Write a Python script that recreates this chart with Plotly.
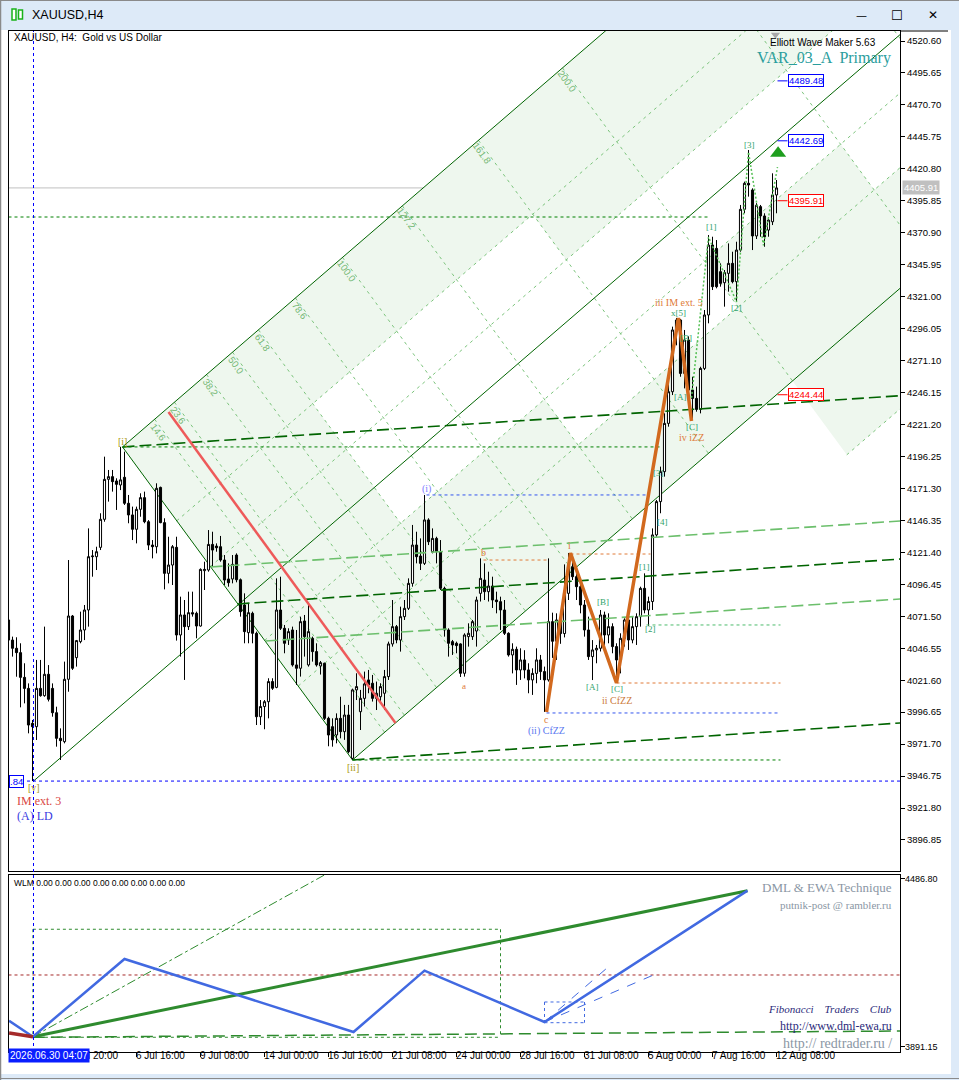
"""XAUUSD H4 Elliott-wave chart (MT4 look) rebuilt with plotly."""

import plotly.graph_objects as go

W, H = 959, 1080
ML, MR, MT, MB = 9, 59, 31, 28
PW = W - ML - MR
PH = H - MT - MB

# ---- price data (bar index = H4 bar, 0 = left edge of the window) ----
open_ = [
    4068.6, 4052.9, 4046.5, 4043.1, 4023.8, 4015.2, 3987.9, 3985.3, 4015.2, 4009.5,
    4026.2, 4015.2, 3996.2, 3976.2, 3973.6, 4022.3, 4071.7, 4039.2, 4051.7, 4060.8,
    4076.4, 4118.0, 4118.0, 4125.3, 4147.2, 4178.4, 4180.5, 4177.1, 4174.0, 4180.0,
    4159.7, 4150.6, 4139.4, 4155.0, 4164.1, 4145.3, 4127.1, 4125.8, 4172.1, 4144.6,
    4105.0, 4111.5, 4125.3, 4056.9, 4072.5, 4063.4, 4074.3, 4073.8, 4063.9, 4107.1,
    4107.6, 4127.6, 4126.3, 4125.8, 4115.4, 4100.6, 4100.6, 4119.3, 4100.0, 4080.3,
    4058.7, 4073.8, 4058.2, 3993.1, 4001.0, 4004.8, 4020.5, 4016.0, 4076.4, 4062.1,
    4053.0, 4060.8, 4033.5, 4030.9, 4067.8, 4033.5, 4054.3, 4043.9, 4032.7, 4034.8,
    3991.8, 3985.3, 3978.8, 3991.8, 3981.4, 3994.4, 3960.6, 4014.0, 3997.0, 4007.4,
    4021.8, 4019.2, 4007.4, 4008.7, 4011.4, 4024.4, 4049.9, 4063.4, 4053.0, 4071.2,
    4077.7, 4097.2, 4127.1, 4118.5, 4112.8, 4146.7, 4121.9, 4132.3, 4122.0, 4093.3,
    4060.8, 4051.7, 4050.4, 4049.9, 4027.0, 4055.6, 4055.6, 4060.0, 4089.4, 4099.8,
    4090.7, 4095.1, 4084.2, 4082.9, 4076.4, 4058.2, 4041.3, 4045.7, 4029.6, 4037.4,
    4029.6, 4021.8, 4026.9, 4037.4, 4028.3, 4021.8, 4067.3, 4052.0, 4068.6, 4058.0,
    4089.4, 4110.2, 4102.4, 4094.6, 4080.3, 4060.8, 4040.0, 4045.2, 4046.5, 4072.5,
    4056.9, 4063.4, 4047.8, 4037.4, 4054.3, 4068.6, 4053.0, 4063.4, 4071.2, 4093.3,
    4076.4, 4083.0, 4135.0, 4161.0, 4184.4, 4222.1, 4246.8, 4295.0, 4302.8, 4261.1,
    4287.2, 4248.1, 4241.6, 4233.0, 4265.0, 4306.7, 4361.3, 4358.7, 4340.5, 4331.9,
    4339.2, 4347.0, 4332.7, 4357.4, 4389.2, 4409.5, 4404.3, 4368.4, 4391.3, 4384.0,
    4373.0, 4379.5, 4400.4,
]
high = [
    4069.9, 4055.6, 4055.1, 4050.4, 4034.8, 4019.1, 3990.5, 4037.4, 4037.4, 4063.4,
    4033.4, 4019.1, 4000.9, 3984.0, 4036.1, 4115.4, 4072.5, 4053.0, 4075.1, 4080.3,
    4140.1, 4123.2, 4125.8, 4151.9, 4196.1, 4185.7, 4185.7, 4179.2, 4203.7, 4200.0,
    4166.2, 4157.1, 4157.1, 4167.5, 4168.8, 4146.6, 4131.0, 4175.3, 4172.7, 4148.0,
    4133.6, 4127.1, 4133.6, 4086.8, 4084.2, 4090.7, 4090.7, 4075.1, 4108.9, 4114.1,
    4138.8, 4137.5, 4128.4, 4134.2, 4119.3, 4112.8, 4119.3, 4120.6, 4101.0, 4089.4,
    4081.6, 4075.1, 4059.5, 4006.1, 4006.1, 4023.1, 4023.1, 4101.1, 4102.4, 4064.7,
    4062.1, 4063.4, 4060.8, 4071.2, 4072.5, 4080.3, 4055.6, 4050.4, 4036.6, 4035.3,
    3993.1, 3991.8, 3995.7, 4008.7, 4002.3, 4002.3, 4015.0, 4027.0, 4014.0, 4028.3,
    4029.6, 4025.7, 4020.5, 4019.2, 4029.6, 4051.7, 4084.2, 4064.7, 4079.0, 4084.2,
    4101.1, 4142.8, 4137.5, 4132.3, 4166.2, 4148.0, 4140.1, 4133.6, 4131.0, 4094.6,
    4062.1, 4053.0, 4051.7, 4050.4, 4058.2, 4066.0, 4068.6, 4086.8, 4116.7, 4112.8,
    4106.3, 4102.4, 4090.7, 4086.8, 4084.2, 4059.0, 4050.4, 4047.8, 4046.5, 4045.0,
    4034.8, 4030.9, 4046.5, 4041.3, 4032.2, 4116.7, 4074.3, 4073.8, 4075.0, 4112.0,
    4120.9, 4115.4, 4110.2, 4098.5, 4084.2, 4071.2, 4052.9, 4049.1, 4076.4, 4075.1,
    4073.8, 4066.0, 4050.4, 4058.2, 4069.9, 4070.0, 4071.2, 4073.8, 4094.6, 4105.0,
    4086.8, 4140.1, 4162.3, 4188.3, 4229.9, 4265.0, 4297.6, 4304.4, 4303.5, 4295.0,
    4290.0, 4258.5, 4250.8, 4266.3, 4310.6, 4369.1, 4367.8, 4365.2, 4347.0, 4341.8,
    4362.6, 4356.1, 4363.9, 4392.6, 4410.8, 4435.5, 4405.6, 4394.0, 4392.6, 4386.1,
    4382.9, 4417.3, 4412.1,
]
low = [
    4051.7, 4040.0, 4024.3, 4000.4, 4003.5, 3980.1, 3942.84, 3974.9, 4008.7, 4008.7,
    4005.0, 3993.1, 3969.7, 3959.3, 3972.3, 4012.6, 4029.6, 4032.2, 4050.4, 4052.9,
    4063.4, 4102.4, 4107.6, 4123.2, 4145.3, 4161.0, 4168.8, 4154.5, 4170.0, 4158.4,
    4144.1, 4131.0, 4128.4, 4149.2, 4144.1, 4123.2, 4116.7, 4120.6, 4144.1, 4092.5,
    4097.2, 4095.9, 4052.5, 4040.0, 4021.8, 4060.8, 4071.2, 4054.3, 4063.4, 4092.0,
    4106.3, 4110.2, 4121.9, 4114.1, 4095.9, 4094.6, 4097.2, 4098.0, 4071.2, 4050.4,
    4050.4, 4050.4, 3986.6, 3986.6, 3983.3, 3991.8, 4014.0, 4015.3, 4060.8, 4042.6,
    4049.1, 4032.2, 4017.9, 4024.4, 4040.0, 4032.2, 4036.1, 4032.2, 4026.0, 3990.5,
    3970.0, 3969.7, 3972.3, 3976.2, 3975.0, 3964.5, 3959.3, 4006.1, 3982.7, 4001.0,
    4011.4, 4004.9, 3998.3, 4003.5, 3998.3, 4021.8, 4047.8, 4050.4, 4043.9, 4068.6,
    4076.4, 4094.6, 4112.8, 4107.6, 4111.5, 4127.1, 4120.6, 4112.8, 4092.0, 4055.6,
    4040.0, 4041.3, 4042.6, 4024.1, 4024.4, 4047.8, 4053.0, 4047.8, 4083.0, 4084.2,
    4083.0, 4078.0, 4073.8, 4060.8, 4056.9, 4040.0, 4026.9, 4017.9, 4021.8, 4023.0,
    4011.4, 4010.1, 4019.2, 4021.8, 3996.8, 4020.5, 4039.0, 4037.4, 4050.0, 4055.0,
    4084.2, 4099.8, 4084.2, 4073.8, 4055.6, 4037.4, 4021.7, 4034.8, 4044.0, 4047.8,
    4050.4, 4042.6, 4020.2, 4026.9, 4047.8, 4045.2, 4050.4, 4049.1, 4063.4, 4073.8,
    4064.0, 4076.4, 4133.6, 4151.9, 4180.5, 4219.5, 4244.2, 4283.0, 4258.5, 4249.4,
    4245.5, 4224.7, 4231.2, 4229.9, 4263.7, 4300.2, 4326.2, 4327.5, 4328.8, 4313.2,
    4324.9, 4331.4, 4317.1, 4356.1, 4386.1, 4399.1, 4357.4, 4366.0, 4367.8, 4360.0,
    4367.8, 4376.9, 4386.1,
]
close = [
    4052.9, 4046.5, 4043.1, 4023.8, 4015.2, 3986.6, 3985.3, 4015.2, 4009.5, 4026.2,
    4006.7, 3996.2, 3976.2, 3974.4, 4022.3, 4071.7, 4030.9, 4052.5, 4060.8, 4076.4,
    4118.0, 4118.5, 4121.9, 4147.2, 4178.4, 4180.5, 4176.6, 4174.5, 4178.0, 4159.7,
    4150.6, 4139.4, 4155.0, 4164.1, 4145.3, 4127.1, 4125.8, 4171.4, 4144.6, 4105.0,
    4111.5, 4125.8, 4056.9, 4072.5, 4063.4, 4074.3, 4073.3, 4063.9, 4108.1, 4108.1,
    4127.6, 4123.2, 4125.0, 4115.4, 4099.8, 4097.7, 4112.0, 4100.0, 4075.1, 4059.5,
    4074.3, 4058.2, 3993.1, 4001.0, 4004.8, 4020.5, 4015.3, 4076.4, 4062.1, 4050.4,
    4059.5, 4033.5, 4030.9, 4067.3, 4055.6, 4059.5, 4043.9, 4033.5, 4035.3, 3991.8,
    3978.8, 3975.0, 3991.8, 3981.4, 3994.4, 3965.8, 4014.0, 4016.6, 4007.4, 4018.7,
    4017.9, 4007.4, 4011.4, 4016.6, 4024.4, 4049.9, 4063.4, 4053.0, 4071.2, 4077.7,
    4097.2, 4127.1, 4118.0, 4112.8, 4146.7, 4129.7, 4132.3, 4122.0, 4093.3, 4060.8,
    4050.4, 4049.1, 4048.6, 4027.0, 4056.9, 4058.2, 4067.3, 4084.2, 4101.1, 4090.7,
    4095.1, 4084.2, 4082.9, 4076.4, 4058.2, 4041.3, 4045.7, 4029.6, 4037.4, 4029.6,
    4021.8, 4026.9, 4037.4, 4028.3, 4021.8, 4067.3, 4052.0, 4068.6, 4058.0, 4089.4,
    4110.2, 4102.4, 4094.6, 4080.3, 4060.8, 4040.0, 4045.2, 4046.5, 4072.5, 4056.9,
    4063.4, 4047.8, 4037.4, 4054.3, 4068.6, 4053.0, 4063.4, 4071.2, 4093.3, 4076.4,
    4083.0, 4135.0, 4161.0, 4184.4, 4222.1, 4246.8, 4295.0, 4302.8, 4261.1, 4287.2,
    4248.1, 4241.6, 4233.0, 4265.0, 4306.7, 4361.3, 4328.8, 4328.8, 4331.4, 4339.8,
    4347.0, 4332.7, 4357.4, 4389.2, 4409.5, 4408.2, 4368.4, 4392.4, 4384.0, 4367.8,
    4380.8, 4400.4, 4405.9,
]
bars = list(range(len(close)))

price_ticks = [
    4520.60, 4495.65, 4470.70, 4445.75, 4420.80, 4395.85, 4370.90, 4345.95, 4321.00,
    4296.05, 4271.10, 4246.15, 4221.20, 4196.25, 4171.30, 4146.35, 4121.40, 4096.45,
    4071.50, 4046.55, 4021.60, 3996.65, 3971.70, 3946.75, 3921.80, 3896.85,
]
date_ticks = [16, 32, 48, 64, 80, 96, 112, 128, 144, 160, 176, 192]
date_labels = [
    "l 20:00", "6 Jul 16:00", "9 Jul 08:00", "14 Jul 00:00", "16 Jul 16:00",
    "21 Jul 08:00", "24 Jul 00:00", "28 Jul 16:00", "31 Jul 08:00", "5 Aug 00:00",
    "7 Aug 16:00", "12 Aug 08:00",
]
wlm_ticks = [4486.80, 3891.15]

# ---- wave points ----
pt_v = (6.25, 3942.84)
pt_i = (28.5, 4203.7)
pt_ii = (86.0, 3959.3)
chan_slope = 2.69          # price per bar along the channel
fib_unit = 55.0            # bars for 100 % along the channel
fib_levels = [14.6, 23.6, 38.2, 50.0, 61.8, 78.6, 100.0, 127.2, 161.8, 200.0]
fib_extra = [261.8, 300.0, 361.8, 423.6]
par_levels = [0.236, 0.382, 0.618, 0.764]
white_cells = [  # (g0, g1, f0, f1) cells of the channel grid left unshaded
    (0.618, 3.618, 0.382, 0.618),
    (0.618, 1.0, 0.236, 0.382),
    (1.0, 1.618, 0.236, 0.382),
    (1.272, 2.0, 0.618, 0.764),
    (2.618, 3.618, 0.618, 0.764),
]

zz_x = [134.5, 140.5, 152.0, 167.5, 170.75]
zz_y = [3996.8, 4120.9, 4019.4, 4304.4, 4224.0]
minor_x = [170.75, 175.0, 182.0, 185.0, 188.75, 192.25]
minor_y = [4242.0, 4367.6, 4316.9, 4433.9, 4361.0, 4422.2]
red_x = [40.0, 96.75]
red_y = [4230.9, 3988.2]

# sloped long-dash lines: (x0, y0, x1, y1, colour)
slopes = [
    (28.5, 4203.7, 223.0, 4243.7, "#006400"),
    (50.5, 4110.0, 223.0, 4145.9, "#6cbf6c"),
    (57.25, 4081.1, 223.0, 4116.2, "#006400"),
    (64.25, 4052.2, 223.0, 4085.0, "#6cbf6c"),
    (86.0, 3959.3, 223.0, 3988.2, "#006400"),
]
# horizontal short-dash levels: (x0, x1, price, colour)
levels = [
    (0.0, 175.0, 4383.2, "#008000"),
    (28.5, 163.5, 4203.7, "#008000"),
    (104.5, 160.0, 4166.2, "#3355ee"),
    (118.75, 135.0, 4115.4, "#e07b39"),
    (140.5, 160.5, 4120.1, "#e07b39"),
    (152.0, 193.0, 4019.4, "#e07b39"),
    (134.5, 193.0, 3996.0, "#3355ee"),
    (159.5, 193.0, 4064.7, "#4cbb6c"),
    (86.0, 193.0, 3959.3, "#008000"),
]
targets = [(4489.48, "#0000ff"), (4442.69, "#0000ff"), (4395.91, "#ff0000"), (4244.44, "#ff0000")]
last_price = 4405.91

# wave labels: (text, bar, price, colour, size)
GOLD, TEAL, ORANGE, BLUE = "#a8960e", "#2fa36b", "#e07b39", "#5a78f0"
wave_labels = [
    ("[i]", 28.5, 4208.3, GOLD, 10), ("[v]", 6.25, 3938.2, GOLD, 10),
    ("IM ext. 3", 7.5, 3927.3, "#d9473f", 12), ("(A) LD", 6.5, 3915.6, "#3a3adf", 12),
    ("[ii]", 86.0, 3953.8, GOLD, 10), ("(i)", 104.5, 4170.9, "#7b7bff", 10),
    ("a", 113.75, 4017.1, ORANGE, 9), ("b", 118.75, 4120.9, ORANGE, 10),
    ("c", 134.5, 3991.3, ORANGE, 10), ("(ii) CfZZ", 134.5, 3981.9, BLUE, 10),
    ("i", 140.25, 4126.4, ORANGE, 10), ("[A]", 146.0, 4016.3, TEAL, 9),
    ("[B]", 148.5, 4082.7, TEAL, 9), ("[C]", 152.0, 4014.7, TEAL, 9),
    ("ii CfZZ", 152.0, 4006.1, "#cc7a3a", 10), ("[1]", 159.0, 4110.0, TEAL, 9),
    ("[2]", 160.5, 4061.6, TEAL, 9), ("[3]", 162.5, 4183.4, TEAL, 9),
    ("[4]", 163.5, 4145.1, TEAL, 9), ("iii IM ext. 5", 167.5, 4316.8, ORANGE, 10),
    ("x[5]", 167.5, 4308.3, TEAL, 9), ("[B]", 169.25, 4288.7, TEAL, 9),
    ("[A]", 168.0, 4242.7, TEAL, 9), ("[C]", 170.75, 4219.3, TEAL, 9),
    ("iv iZZ", 170.75, 4210.7, ORANGE, 10), ("[1]", 175.75, 4375.4, TEAL, 9),
    ("[2]", 182.0, 4312.2, TEAL, 9), ("[3]", 185.25, 4439.4, TEAL, 9),
]

# ---- lower WLM panel ----
wlm_blue_x = [0.15, 6.1, 29.0, 86.25, 104.0, 134.0, 184.75]
wlm_blue_y = [3984.4, 3927.7, 4203.2, 3944.3, 4161.7, 3979.8, 4445.3]
wlm_red_x = [0.15, 6.1]
wlm_red_y = [3940.8, 3927.7]
wlm_green_x = [6.1, 184.75]
wlm_green_y = [3927.7, 4445.3]

X_RANGE = [0.125, 222.875]


def px(x):
    return (x - ML) / PW


def py(y):
    return (H - MB - y) / PH


def grid_pt(g, f):
    bx = pt_i[0] + g * fib_unit + f * (pt_ii[0] - pt_i[0])
    by = pt_i[1] + g * fib_unit * chan_slope + f * (pt_ii[1] - pt_i[1])
    return bx, by


def lines(segs, color, width, dash, xa="x", ya="y"):
    xs, ys = [], []
    for (x0, y0), (x1, y1) in segs:
        xs += [x0, x1, None]
        ys += [y0, y1, None]
    return go.Scatter(x=xs, y=ys, mode="lines", xaxis=xa, yaxis=ya,
                      line=dict(color=color, width=width, dash=dash),
                      hoverinfo="skip", showlegend=False)


def poly_shape(pts, color):
    path = "M " + " L ".join(f"{x},{y}" for x, y in pts) + " Z"
    return dict(type="path", path=path, xref="x", yref="y", fillcolor=color,
                line=dict(width=0), layer="below")


def seg_shape(a, b, color, width, dash):
    return dict(type="line", xref="x", yref="y", x0=a[0], y0=a[1], x1=b[0], y1=b[1],
                line=dict(color=color, width=width, dash=dash), layer="below")


fig = go.Figure()
shapes = []

# channel shading (below the candles)
SHADE = "#eef7ee"
shapes.append(poly_shape([grid_pt(0, 0), grid_pt(0, 1), grid_pt(6, 1), grid_pt(6, 0)], SHADE))
shapes.append(poly_shape([grid_pt(2, 1), grid_pt(2, 1.236), grid_pt(6, 1.236), grid_pt(6, 1)], SHADE))
for g0, g1, f0, f1 in white_cells:
    shapes.append(poly_shape([grid_pt(g0, f0), grid_pt(g0, f1), grid_pt(g1, f1), grid_pt(g1, f0)], "white"))

# channel grid
GRID = "#7cc47c"
for lv in fib_levels:
    shapes.append(seg_shape(grid_pt(lv / 100, 0), grid_pt(lv / 100, 1.0), GRID, 1, "3px,4px"))
for lv in fib_extra:
    shapes.append(seg_shape(grid_pt(lv / 100, 0), grid_pt(lv / 100, 1.236), GRID, 1, "3px,4px"))
for f in par_levels:
    shapes.append(seg_shape(grid_pt(0, f), grid_pt(6, f), GRID, 1, "3px,4px"))
shapes.append(seg_shape(grid_pt(2, 1.236), grid_pt(6, 1.236), GRID, 1, "3px,4px"))

# channel solid lines
v_end = (pt_v[0] + 230, pt_v[1] + 230 * chan_slope)
for a, b in [(grid_pt(0, 0), grid_pt(6, 0)), (grid_pt(0, 1), grid_pt(6, 1)), (pt_v, v_end), (pt_i, pt_ii)]:
    shapes.append(seg_shape(a, b, "#006400", 1, "solid"))

shapes.append(dict(type="line", xref="paper", yref="y", x0=0, x1=1, y0=last_price, y1=last_price,
                   line=dict(color="#c0c0c0", width=1), layer="below"))

# candles
fig.add_trace(go.Candlestick(
    x=bars, open=open_, high=high, low=low, close=close,
    increasing=dict(line=dict(color="black", width=1), fillcolor="white"),
    decreasing=dict(line=dict(color="black", width=1), fillcolor="black"),
    whiskerwidth=0, hoverinfo="skip", showlegend=False,
))

# sloped long-dash lines
for x0, y0, x1, y1, c in slopes:
    fig.add_trace(lines([((x0, y0), (x1, y1))], c, 1.6, "12px,5px"))

# horizontal dashed levels
for x0, x1, lv, c in levels:
    fig.add_trace(lines([((x0, lv), (x1, lv))], c, 1, "3px,3px"))
fig.add_trace(lines([((X_RANGE[0], pt_v[1]), (X_RANGE[1], pt_v[1]))], "#0000ff", 1, "3px,3px"))
shapes.append(dict(type="line", xref="x", yref="paper", x0=pt_v[0], x1=pt_v[0], y0=0, y1=1,
                   line=dict(color="#0000ff", width=1, dash="3px,3px")))

# red line, zigzag and minor wave path
fig.add_trace(go.Scatter(x=red_x, y=red_y, mode="lines", line=dict(color="#ee5a5a", width=2.5),
                         hoverinfo="skip", showlegend=False))
fig.add_trace(go.Scatter(x=zz_x, y=zz_y, mode="lines", line=dict(color="#d2691e", width=3.5),
                         hoverinfo="skip", showlegend=False))
fig.add_trace(go.Scatter(x=minor_x, y=minor_y, mode="lines", line=dict(color="#55c055", width=1.5, dash="2px,2px"),
                         hoverinfo="skip", showlegend=False))
fig.add_trace(go.Scatter(x=[192.4], y=[4433.0], mode="markers",
                         marker=dict(symbol="triangle-up", size=14, color="#1e9e1e"),
                         hoverinfo="skip", showlegend=False))
fig.add_trace(go.Scatter(x=[191.75], y=[4525.5], mode="markers",
                         marker=dict(symbol="triangle-down", size=8, color="#a8a8a8"),
                         hoverinfo="skip", showlegend=False))

# target price box ticks
for lv, c in targets:
    fig.add_trace(lines([((192.25, lv), (194.75, lv))], c, 1, "solid"))

# ---- lower panel ----
fig.add_trace(lines([((6.1, 3927.7), (79.0, 4501.0))], "#2e8b2e", 1, "dashdot", "x2", "y2"))
fig.add_trace(lines([((6.1, 4308.5), (123.0, 4308.5)), ((123.0, 4308.5), (123.0, 3925.6)),
                     ((6.1, 3925.6), (123.0, 3925.6)), ((6.1, 4308.5), (6.1, 3925.6))],
                    "#2e8b2e", 1, "dot", "x2", "y2"))
fig.add_trace(lines([((0.0, 4146.4), (223.0, 4146.4))], "#a52a2a", 1, "dot", "x2", "y2"))
fig.add_trace(lines([((6.1, 3925.6), (223.0, 3947.9))], "#2e8b2e", 1.5, "12px,6px", "x2", "y2"))
fig.add_trace(lines([((134.0, 4050.7), (144.0, 4050.7)), ((144.0, 4050.7), (144.0, 3977.3)),
                     ((134.0, 3977.3), (144.0, 3977.3)), ((134.0, 4050.7), (134.0, 3977.3))],
                    "#4169e1", 1, "dot", "x2", "y2"))
fig.add_trace(lines([((134.0, 3979.8), (150.5, 4181.9)), ((134.0, 3979.8), (162.4, 4153.5))],
                    "#4169e1", 1, "dash", "x2", "y2"))
fig.add_trace(go.Scatter(x=wlm_green_x, y=wlm_green_y, mode="lines", xaxis="x2", yaxis="y2",
                         line=dict(color="#2e8b2e", width=3), hoverinfo="skip", showlegend=False))
fig.add_trace(go.Scatter(x=wlm_blue_x, y=wlm_blue_y, mode="lines", xaxis="x2", yaxis="y2",
                         line=dict(color="#4169e1", width=2.5), hoverinfo="skip", showlegend=False))
fig.add_trace(go.Scatter(x=wlm_red_x, y=wlm_red_y, mode="lines", xaxis="x2", yaxis="y2",
                         line=dict(color="#a52a2a", width=3.5), hoverinfo="skip", showlegend=False))

# ---- annotations ----
SANS = "Liberation Sans"
SERIF = "Liberation Serif"
ann = []
for lv in fib_levels:
    gx, gy = grid_pt(lv / 100, 0.0)
    ann.append(dict(x=gx, y=gy, text=f"{lv:.1f}", showarrow=False, textangle=54,
                    xanchor="center", yanchor="middle", xshift=4, yshift=-13,
                    font=dict(family=SANS, size=9.5, color="#74b874")))
for text, bx, by, c, s in wave_labels:
    ann.append(dict(x=bx, y=by, text=text, showarrow=False,
                    font=dict(family=SERIF, size=s, color=c)))
for lv, c in targets:
    ann.append(dict(x=194.75, y=lv, text=f"{lv:.2f}", showarrow=False, xanchor="left",
                    bgcolor="white", bordercolor=c, borderwidth=1, borderpad=0,
                    font=dict(family=SANS, size=9.5, color=c)))
ann.append(dict(xref="paper", x=px(902), y=last_price, text=f"{last_price:.2f}", showarrow=False,
                xanchor="left", bgcolor="#c0c0c0", borderpad=1,
                font=dict(family=SANS, size=9.5, color="white")))
ann.append(dict(xref="paper", x=px(9), y=pt_v[1], text=".84", showarrow=False, xanchor="left",
                bgcolor="white", bordercolor="#0000ff", borderwidth=1, borderpad=0,
                font=dict(family=SANS, size=9.5, color="#0000ff")))
for t, lab in zip(date_ticks, date_labels):
    shift = 13 if t == 16 else -3
    ann.append(dict(x=t, xref="x2", yref="paper", y=py(1063), text=lab, showarrow=False,
                    xanchor="left", xshift=shift, font=dict(family=SANS, size=10, color="black")))
ann.append(dict(xref="paper", yref="paper", x=px(8), y=py(1063), text="2026.06.30 04:07",
                showarrow=False, xanchor="left", bgcolor="#0a1eff", borderpad=1,
                font=dict(family=SANS, size=10, color="white")))

paper_txt = [
    ("XAUUSD, H4:  Gold vs US Dollar", 12, 38, "left", SANS, 10, "black"),
    ("Elliott Wave Maker 5.63", 878, 42, "right", SANS, 10, "black"),
    ("VAR_03_A  Primary", 893, 58, "right", SERIF, 16, "#2a9d9d"),
    ("WLM 0.00 0.00 0.00 0.00 0.00 0.00 0.00 0.00", 12, 883, "left", SANS, 8.5, "black"),
    ("DML & EWA Technique", 894, 887, "right", SERIF, 13, "#8a96a4"),
    ("putnik-post @ rambler.ru", 894, 905, "right", SERIF, 11, "#8a96a4"),
    ("<i>Fibonacci    Traders    Club</i>", 894, 1009, "right", SERIF, 11, "#2a2a7a"),
    ("http://www.dml-ewa.ru", 894, 1026, "right", SERIF, 12, "#2a2a7a"),
    ("http:// redtrader.ru /", 894, 1043, "right", SERIF, 14, "#8a96a4"),
    ("4486.80", 903, 879, "left", SANS, 9, "black"),
    ("3891.15", 903, 1047, "left", SANS, 9, "black"),
    ("XAUUSD,H4", 30, 15, "left", SANS, 12.5, "black"),
    ("—", 861, 15, "center", "DejaVu Sans", 11, "black"),
    ("☐", 897, 15, "center", "DejaVu Sans", 13, "black"),
    ("✕", 933, 15, "center", "DejaVu Sans", 12, "black"),
]
for text, x, y, anchor, fam, s, c in paper_txt:
    ann.append(dict(xref="paper", yref="paper", x=px(x), y=py(y), text=text, showarrow=False,
                    xanchor=anchor, yanchor="middle", font=dict(family=fam, size=s, color=c)))

# ---- window chrome ----
CHROME = "#ddeaf8"
shapes += [
    dict(type="rect", xref="paper", yref="paper", x0=px(0), x1=px(959), y0=py(30), y1=py(0),
         fillcolor=CHROME, line=dict(width=0), layer="below"),
    dict(type="rect", xref="paper", yref="paper", x0=px(951), x1=px(959), y0=py(1080), y1=py(30),
         fillcolor=CHROME, line=dict(width=0), layer="below"),
    dict(type="rect", xref="paper", yref="paper", x0=px(0), x1=px(959), y0=py(1080), y1=py(1074),
         fillcolor=CHROME, line=dict(width=0), layer="below"),
    dict(type="line", xref="paper", yref="paper", x0=px(0.5), x1=px(0.5), y0=py(1080), y1=py(0),
         line=dict(color="#8a8a8a", width=1.5)),
    dict(type="line", xref="paper", yref="paper", x0=px(0), x1=px(959), y0=py(0.5), y1=py(0.5),
         line=dict(color="#8a8a8a", width=1)),
    dict(type="line", xref="paper", yref="paper", x0=px(0), x1=px(959), y0=py(1078.5), y1=py(1078.5),
         line=dict(color="#8a8a8a", width=1)),
    dict(type="rect", xref="paper", yref="paper", x0=px(12), x1=px(16), y0=py(20), y1=py(9),
         fillcolor="white", line=dict(color="#19b219", width=1.5)),
    dict(type="rect", xref="paper", yref="paper", x0=px(18.5), x1=px(22.5), y0=py(19), y1=py(10),
         fillcolor="white", line=dict(color="#19b219", width=1.5)),
    dict(type="line", xref="paper", yref="paper", x0=px(900), x1=px(948), y0=py(31), y1=py(31),
         line=dict(color="black", width=1)),
]
for s in shapes:
    fig.add_shape(**s)

axis_font = dict(family=SANS, size=9.5, color="black")
fig.update_layout(
    width=W, height=H, margin=dict(l=ML, r=MR, t=MT, b=MB),
    paper_bgcolor="white", plot_bgcolor="white", showlegend=False,
    boxgap=0.25, annotations=ann,
    xaxis=dict(domain=[0, 1], range=X_RANGE, anchor="y", showgrid=False, zeroline=False,
               showticklabels=False, ticks="", showline=True, mirror=True, linecolor="black",
               rangeslider=dict(visible=False), fixedrange=True),
    yaxis=dict(domain=[0.1773, 1], range=[3872.65, 4528.41], side="right", anchor="x",
               showgrid=False, zeroline=False, showline=True, mirror=True, linecolor="black",
               ticks="outside", ticklen=4, tickcolor="black", tickvals=price_ticks,
               ticktext=[f"{v:.2f}" for v in price_ticks], tickfont=axis_font),
    xaxis2=dict(domain=[0, 1], range=X_RANGE, anchor="y2", showgrid=False, zeroline=False,
                showline=True, mirror=True, linecolor="black", ticks="outside", ticklen=4,
                tickcolor="black", tickvals=date_ticks, showticklabels=False),
    yaxis2=dict(domain=[0, 0.1734], range=[3873.4, 4501.0], side="right", anchor="x2",
                showgrid=False, zeroline=False, showline=True, mirror=True, linecolor="black",
                ticks="outside", ticklen=4, tickcolor="black", tickvals=wlm_ticks,
                showticklabels=False),
)

fig.write_html("out.html", config={"displayModeBar": False},
               post_script="document.body.style.margin='0';")
